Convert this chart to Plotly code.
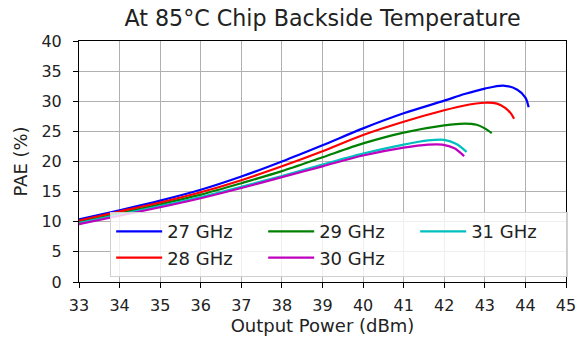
import plotly.graph_objects as go

# Output power (dBm) and PAE (%) per frequency
x_27 = [33, 34, 35, 36, 37, 38, 39, 40, 41, 42, 42.5, 43, 43.45, 43.8, 44.0, 44.08]
pae_27 = [10.4, 11.9, 13.5, 15.3, 17.5, 20.0, 22.7, 25.5, 28.0, 30.1, 31.2, 32.1, 32.6, 31.9, 30.6, 29.0]

x_28 = [33, 34, 35, 36, 37, 38, 39, 40, 41, 42, 42.5, 43, 43.3, 43.5, 43.65, 43.72]
pae_28 = [10.2, 11.7, 13.2, 14.9, 16.9, 19.2, 21.7, 24.4, 26.6, 28.5, 29.3, 29.75, 29.6, 28.9, 27.9, 27.1]

x_29 = [33, 34, 35, 36, 37, 38, 39, 40, 41, 42, 42.5, 42.8, 43.0, 43.17]
pae_29 = [10.0, 11.4, 12.9, 14.5, 16.4, 18.4, 20.7, 23.0, 24.8, 26.0, 26.3, 26.1, 25.5, 24.7]

x_30 = [33, 34, 35, 36, 37, 38, 39, 40, 41, 41.6, 41.95, 42.25, 42.49]
pae_30 = [9.6, 11.0, 12.4, 13.9, 15.6, 17.4, 19.2, 21.0, 22.3, 22.8, 22.8, 22.2, 20.9]

x_31 = [33, 34, 35, 36, 37, 38, 39, 40, 41, 41.6, 42.0, 42.3, 42.55]
pae_31 = [9.8, 11.2, 12.6, 14.1, 15.8, 17.6, 19.5, 21.3, 22.8, 23.5, 23.6, 22.9, 21.6]

x_ticks = list(range(33, 46))
y_ticks = list(range(0, 41, 5))

FONT = "DejaVu Sans"
TEXT = "#222222"

# legend fills row by row, so order traces to give 27/28 | 29/30 | 31 columns
series = [
    ("27 GHz", x_27, pae_27, "#0000ff"),
    ("29 GHz", x_29, pae_29, "#008000"),
    ("31 GHz", x_31, pae_31, "#00bfbf"),
    ("28 GHz", x_28, pae_28, "#ff0000"),
    ("30 GHz", x_30, pae_30, "#bf00bf"),
]

fig = go.Figure()
for name, xs, ys, color in series:
    fig.add_trace(go.Scatter(
        x=xs, y=ys, name=name, mode="lines",
        line=dict(color=color, width=2.2, shape="spline", smoothing=0.8),
    ))

axis_common = dict(
    showgrid=True, gridcolor="#b0b0b0", gridwidth=1,
    showline=True, linecolor="black", linewidth=1, mirror=True,
    ticks="outside", ticklen=5, tickcolor="black",
    tickfont=dict(family=FONT, size=16, color=TEXT),
    zeroline=False, automargin=False,
)

fig.update_layout(
    width=584, height=340,
    margin=dict(l=79, r=18, t=41, b=58),
    paper_bgcolor="white", plot_bgcolor="white",
    title=dict(text="At 85°C Chip Backside Temperature", x=(79 + 487 / 2) / 584, xanchor="center",
               y=1 - 18 / 340, yanchor="middle",
               font=dict(family=FONT, size=22.2, color=TEXT)),
    xaxis=dict(range=[33, 45], tickvals=x_ticks, ticklabelstandoff=4,
               title=dict(text="Output Power (dBm)", font=dict(family=FONT, size=18, color=TEXT), standoff=5),
               **axis_common),
    yaxis=dict(range=[0, 40], tickvals=y_ticks, ticklabelstandoff=8,
               title=dict(text="PAE (%)", font=dict(family=FONT, size=18, color=TEXT), standoff=9),
               **axis_common),
    legend=dict(
        orientation="h", x=0.064, xanchor="left", y=0.29, yanchor="top",
        itemwidth=46, entrywidth=91, entrywidthmode="pixels",
        bgcolor="rgba(255,255,255,0.8)", bordercolor="#d0d0d0", borderwidth=1,
        font=dict(family=FONT, size=18, color=TEXT), traceorder="normal",
    ),
    showlegend=True,
)

fig.write_html("out.html")
